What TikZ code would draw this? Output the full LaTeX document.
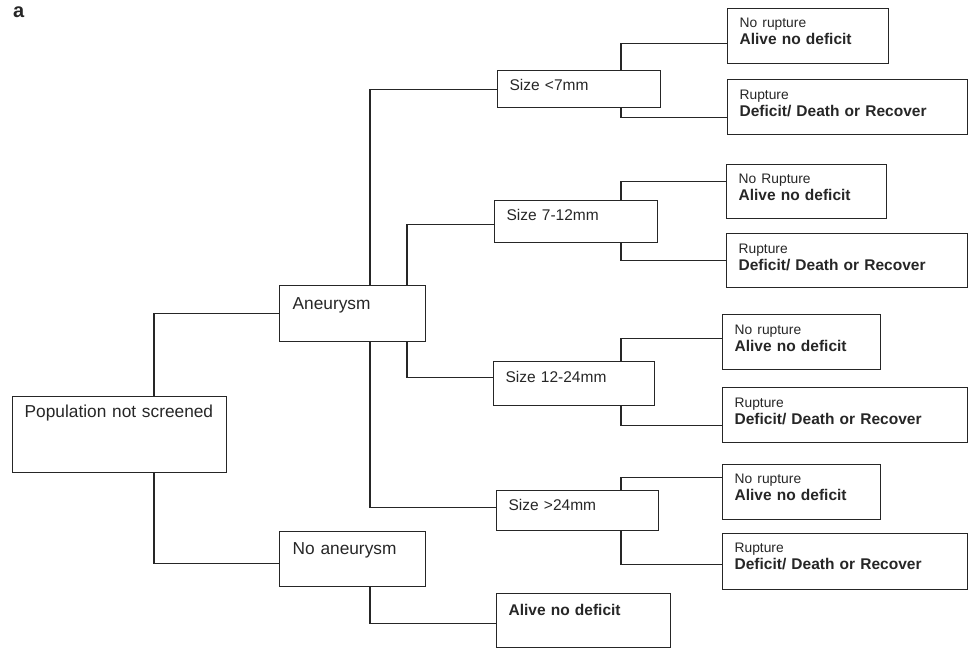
\documentclass[tikz,border=0pt]{standalone}
\usepackage{fontspec}
\setmainfont{Liberation Sans}
\usetikzlibrary{positioning}
\tikzstyle{box} = [rectangle, draw, anchor=north west, align=left,
    inner xsep=12pt, inner ysep=0pt, line width=1.3pt]
\tikzstyle{link} = [draw, line width=1.3pt]
\tikzstyle{every node}=[font=\fontsize{15.5}{17}\selectfont]
\newcommand{\minor}[1]{{\fontsize{13.8}{17}\selectfont #1}}
\newcommand{\major}[1]{\textbf{#1}}

\begin{document}
\begin{tikzpicture}[x=1pt, y=-1pt, color=black!85]
    \useasboundingbox (0,0) rectangle (969,649);
    \node [anchor=base west, inner sep=0pt, font=\fontsize{20}{20}\selectfont\bfseries] (panel) at (13,17) {a};

    % Place nodes
    \node [box, text width=190pt, text height=21pt, text depth=55pt, font=\fontsize{17.3}{19}\selectfont] (pop) at (12,396) {Population not screened};
    \node [box, inner xsep=13pt, text width=120pt, text height=24pt, text depth=32pt, font=\fontsize{17.3}{19}\selectfont] (aneu) at (279,285) {Aneurysm};
    \node [box, inner xsep=13pt, text width=120pt, text height=23pt, text depth=32pt, font=\fontsize{17.3}{19}\selectfont] (noaneu) at (279,531) {No aneurysm};

    \node [box, text width=139pt, text height=20pt, text depth=17pt] (size1) at (497,70) {Size <7mm};
    \node [box, text width=139pt, text height=20pt, text depth=22pt] (size2) at (494,200) {Size 7-12mm};
    \node [box, text width=137pt, text height=21pt, text depth=23pt] (size3) at (493,361) {Size 12-24mm};
    \node [box, text width=138pt, text height=20pt, text depth=20pt] (size4) at (496,490) {Size >24mm};
    \node [box, text width=150pt, text height=22pt, text depth=32pt] (alive) at (496,593) {\major{Alive no deficit}};

    \node [box, text width=137pt, text height=19pt, text depth=36pt] (norup1) at (727,8) {\minor{No rupture}\\ \major{Alive no deficit}};
    \node [box, text width=216pt, text height=20pt, text depth=35pt] (rup1) at (727,79) {\minor{Rupture}\\ \major{Deficit/ Death or Recover}};
    \node [box, text width=136pt, text height=19pt, text depth=35pt] (norup2) at (726,164) {\minor{No Rupture}\\ \major{Alive no deficit}};
    \node [box, text width=217pt, text height=20pt, text depth=34pt] (rup2) at (726,233) {\minor{Rupture}\\ \major{Deficit/ Death or Recover}};
    \node [box, text width=134pt, text height=20pt, text depth=35pt] (norup3) at (722,314) {\minor{No rupture}\\ \major{Alive no deficit}};
    \node [box, text width=221pt, text height=20pt, text depth=35pt] (rup3) at (722,387) {\minor{Rupture}\\ \major{Deficit/ Death or Recover}};
    \node [box, text width=134pt, text height=19pt, text depth=36pt] (norup4) at (722,464) {\minor{No rupture}\\ \major{Alive no deficit}};
    \node [box, text width=221pt, text height=19pt, text depth=37pt] (rup4) at (722,533) {\minor{Rupture}\\ \major{Deficit/ Death or Recover}};

    % branch columns
    \coordinate (colA) at (154,0);
    \coordinate (colB) at (370,0);
    \coordinate (colC) at (407,0);
    \coordinate (colD) at (621,0);

    % Draw edges
    \path [link] (pop.north -| colA) |- (aneu.west);
    \path [link] (pop.south -| colA) |- ([yshift=-4pt]noaneu.west);
    \path [link] (aneu.north -| colB) |- (size1.west);
    \path [link] (aneu.north -| colC) |- ([yshift=-3pt]size2.west);
    \path [link] (aneu.south -| colC) |- ([yshift=6pt]size3.west);
    \path [link] (aneu.south -| colB) |- ([yshift=3pt]size4.west);
    \path [link] (noaneu.south -| colB) |- ([yshift=-3pt]alive.west);
    \path [link] (size1.north -| colD) |- ([yshift=-7pt]norup1.west);
    \path [link] (size1.south -| colD) |- ([yshift=-10pt]rup1.west);
    \path [link] (size2.north -| colD) |- ([yshift=10pt]norup2.west);
    \path [link] (size2.south -| colD) |- (rup2.west);
    \path [link] (size3.north -| colD) |- ([yshift=4pt]norup3.west);
    \path [link] (size3.south -| colD) |- ([yshift=-10pt]rup3.west);
    \path [link] (size4.north -| colD) |- ([yshift=15pt]norup4.west);
    \path [link] (size4.south -| colD) |- ([yshift=-3pt]rup4.west);
\end{tikzpicture}
\end{document}
